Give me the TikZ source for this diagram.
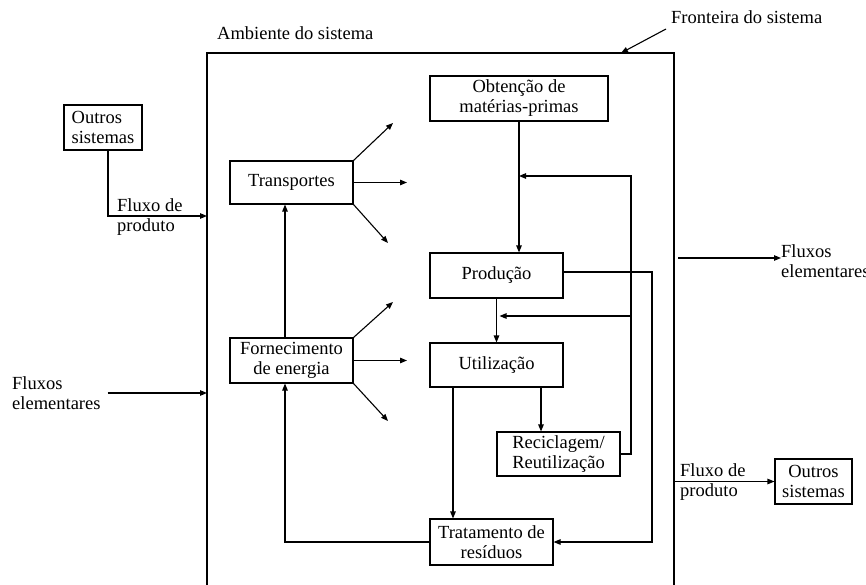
\documentclass[tikz,border=0pt]{standalone}
\usepackage{fontspec}
\setmainfont{Liberation Serif}
\usetikzlibrary{arrows.meta}
\begin{document}
\begin{tikzpicture}[x=1pt,y=-1pt,
  font=\fontsize{18.5}{20}\selectfont,
  box/.style={draw,line width=1.1pt,inner sep=0pt,align=center},
  lbl/.style={inner sep=0pt,align=left,anchor=west},
  conn/.style={line width=1.1pt},
  arr/.style={line width=1.1pt,-{Triangle[length=7pt,width=5.5pt]}},
  boundary/.style={line width=2.4pt}]
\useasboundingbox (0,0) rectangle (866,585);
% system boundary
\draw[boundary] (207,592) -- (207,53) -- (674,53) -- (674,592);
% labels
\node[lbl] (amb) at (217,33) {Ambiente do sistema};
\node[lbl] (fr) at (671,17) {Fronteira do sistema};
\coordinate (frA) at (666,29);
\coordinate (frB) at (621,53);
\draw[arr] (frA) -- (frB);
% boxes
\node[box,minimum width=78pt,minimum height=45pt,align=left] (outL) at (103,127.5) {Outros\\sistemas};
\node[box,minimum width=123pt,minimum height=43pt] (transp) at (291.5,182.5) {Transportes};
\node[box,minimum width=123pt,minimum height=45pt] (forn) at (291.5,360.5) {Fornecimento\\de energia};
\node[box,minimum width=178pt,minimum height=45pt] (obt) at (519,98.5) {Obtenção de\\matérias-primas};
\node[box,minimum width=133pt,minimum height=45pt] (prod) at (496.5,275.5) {Produção};
\node[box,minimum width=133pt,minimum height=44pt] (util) at (496.5,365) {Utilização};
\node[box,minimum width=123pt,minimum height=44pt] (recic) at (558.5,454) {Reciclagem/\\Reutilização};
\node[box,minimum width=123pt,minimum height=46pt] (trat) at (491.5,542) {Tratamento de\\resíduos};
\node[box,minimum width=77pt,minimum height=45pt] (outR) at (813.5,481.5) {Outros\\sistemas};
% left inputs
\coordinate (bL1) at (207,216);
\draw[arr] ([xshift=5pt]outL.south) |- (bL1);
\node[lbl] (fp1) at (117,217) {Fluxo de\\produto};
\node[lbl] (fe1) at (12,393) {Fluxos\\elementares};
\coordinate (bL2) at (207,393);
\draw[arr] ([xshift=7pt]fe1.east |- bL2) -- (bL2);
% right outputs
\coordinate (bR1) at (678,258);
\node[lbl] (fe2) at (781,261) {Fluxos\\elementares};
\draw[arr] (bR1) -- (bR1 -| fe2.west) ;
\coordinate (bR2) at (674,481.5);
\draw[arr] (bR2) -- (outR.west);
\node[lbl] (fp2) at (680,482) {Fluxo de\\produto};
% transportes arrows
\coordinate (t1) at (393,123);
\coordinate (t2) at (407,182.5);
\coordinate (t3) at (388,243);
\draw[arr] (transp.north east) -- (t1);
\draw[arr] (transp.east) -- (t2);
\draw[arr] (transp.south east) -- (t3);
% fornecimento arrows
\coordinate (f1) at (393,302);
\coordinate (f2) at (407,360.5);
\coordinate (f3) at (388,421);
\draw[arr] (forn.north east) -- (f1);
\draw[arr] (forn.east) -- (f2);
\draw[arr] (forn.south east) -- (f3);
% energy to transport
\draw[arr] ([xshift=-6.5pt]forn.north) -- ([xshift=-6.5pt]transp.south);
% waste treatment to energy
\draw[arr] (trat.west) -| ([xshift=-6.5pt]forn.south);
% raw materials to production
\draw[arr] (obt.south) -- (obt.south |- prod.north);
% recycling feedback
\coordinate (rc1) at (631,176);
\coordinate (rc2) at (631,316);
\draw[arr] (recic.east) -| (rc1) -- (rc1 -| obt.south);
\draw[arr] (rc2) -- ([xshift=3pt]rc2 -| prod.south);
% production to use
\draw[arr] (prod.south) -- (util.north);
% use to recycling
\draw[arr] ([xshift=44.5pt]util.south) -- ([xshift=44.5pt]util.south |- recic.north);
% use to treatment
\draw[arr] ([xshift=-43.5pt]util.south) -- ([xshift=-43.5pt]util.south |- trat.north);
% production to treatment
\coordinate (pt1) at (652,272);
\draw[arr] ([yshift=3.5pt]prod.east) -- (pt1) |- (trat.east);
\end{tikzpicture}
\end{document}
